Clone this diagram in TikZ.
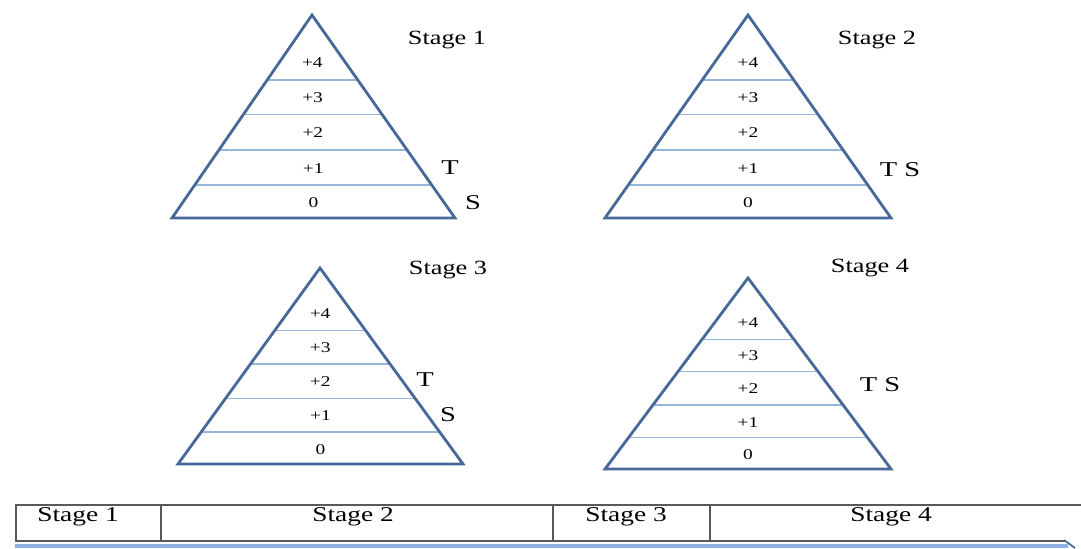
\documentclass[tikz,border=0pt]{standalone}
\usepackage{fontspec}
\setmainfont{Liberation Serif}
\usepackage{tikz}
\usetikzlibrary{calc}
\definecolor{triblue}{RGB}{72,104,154}
\definecolor{bandblue}{RGB}{150,182,220}
\definecolor{arrowblue}{RGB}{140,178,226}

\begin{document}
\begin{tikzpicture}[x=0.02cm, y=-0.02cm,
    tri/.style={draw=triblue, line width=1.6pt, line join=miter},
    band/.style={draw=bandblue, line width=0.7pt},
    lvl/.style={font=\fontsize{8.5}{9}\selectfont, xscale=1.3},
    stagelbl/.style={font=\fontsize{11.5}{13}\selectfont, xscale=1.3},
    tslbl/.style={font=\fontsize{12}{14}\selectfont, xscale=1.35},
    barlbl/.style={font=\fontsize{12}{14}\selectfont, xscale=1.3},
    barline/.style={draw=black!65, line width=1.1pt}]
      \useasboundingbox (0,0) rectangle (1081,548);

      % stage 1
      \coordinate (s1top) at (312,15); \coordinate (s1left) at (172,218); \coordinate (s1right) at (455,218);
      \coordinate (s1base) at ($(s1left)!0.5!(s1right)$);
      \draw[band] ($(s1top)!0.32!(s1left)$) -- ($(s1top)!0.32!(s1right)$);
      \draw[band] ($(s1top)!0.49!(s1left)$) -- ($(s1top)!0.49!(s1right)$);
      \draw[band] ($(s1top)!0.665!(s1left)$) -- ($(s1top)!0.665!(s1right)$);
      \draw[band] ($(s1top)!0.837!(s1left)$) -- ($(s1top)!0.837!(s1right)$);
      \draw[tri] (s1top) -- (s1left) -- (s1right) -- cycle;
      \node[lvl] (s1l4) at ($(s1top)!0.235!(s1base)$) {+4};
      \node[lvl] (s1l3) at ($(s1top)!0.405!(s1base)$) {+3};
      \node[lvl] (s1l2) at ($(s1top)!0.58!(s1base)$) {+2};
      \node[lvl] (s1l1) at ($(s1top)!0.755!(s1base)$) {+1};
      \node[lvl] (s1l0) at ($(s1top)!0.925!(s1base)$) {0};
      \node[stagelbl] (s1name) at (447,40) {Stage 1};
      \node[tslbl] (s1t) at (450,168) {T}; \node[tslbl] (s1s) at (473,203) {S};

      % stage 2
      \coordinate (s2top) at (748,15); \coordinate (s2left) at (605,218); \coordinate (s2right) at (891,218);
      \coordinate (s2base) at ($(s2left)!0.5!(s2right)$);
      \draw[band] ($(s2top)!0.32!(s2left)$) -- ($(s2top)!0.32!(s2right)$);
      \draw[band] ($(s2top)!0.49!(s2left)$) -- ($(s2top)!0.49!(s2right)$);
      \draw[band] ($(s2top)!0.665!(s2left)$) -- ($(s2top)!0.665!(s2right)$);
      \draw[band] ($(s2top)!0.837!(s2left)$) -- ($(s2top)!0.837!(s2right)$);
      \draw[tri] (s2top) -- (s2left) -- (s2right) -- cycle;
      \node[lvl] (s2l4) at ($(s2top)!0.235!(s2base)$) {+4};
      \node[lvl] (s2l3) at ($(s2top)!0.405!(s2base)$) {+3};
      \node[lvl] (s2l2) at ($(s2top)!0.58!(s2base)$) {+2};
      \node[lvl] (s2l1) at ($(s2top)!0.755!(s2base)$) {+1};
      \node[lvl] (s2l0) at ($(s2top)!0.925!(s2base)$) {0};
      \node[stagelbl] (s2name) at (877,40) {Stage 2};
      \node[tslbl] (s2ts) at (900,170) {T S};

      % stage 3
      \coordinate (s3top) at (320,268); \coordinate (s3left) at (178,464); \coordinate (s3right) at (463,464);
      \coordinate (s3base) at ($(s3left)!0.5!(s3right)$);
      \draw[band] ($(s3top)!0.32!(s3left)$) -- ($(s3top)!0.32!(s3right)$);
      \draw[band] ($(s3top)!0.49!(s3left)$) -- ($(s3top)!0.49!(s3right)$);
      \draw[band] ($(s3top)!0.665!(s3left)$) -- ($(s3top)!0.665!(s3right)$);
      \draw[band] ($(s3top)!0.837!(s3left)$) -- ($(s3top)!0.837!(s3right)$);
      \draw[tri] (s3top) -- (s3left) -- (s3right) -- cycle;
      \node[lvl] (s3l4) at ($(s3top)!0.235!(s3base)$) {+4};
      \node[lvl] (s3l3) at ($(s3top)!0.405!(s3base)$) {+3};
      \node[lvl] (s3l2) at ($(s3top)!0.58!(s3base)$) {+2};
      \node[lvl] (s3l1) at ($(s3top)!0.755!(s3base)$) {+1};
      \node[lvl] (s3l0) at ($(s3top)!0.925!(s3base)$) {0};
      \node[stagelbl] (s3name) at (448,270) {Stage 3};
      \node[tslbl] (s3t) at (425,380) {T}; \node[tslbl] (s3s) at (448,415) {S};

      % stage 4
      \coordinate (s4top) at (748,278); \coordinate (s4left) at (605,469); \coordinate (s4right) at (891,469);
      \coordinate (s4base) at ($(s4left)!0.5!(s4right)$);
      \draw[band] ($(s4top)!0.32!(s4left)$) -- ($(s4top)!0.32!(s4right)$);
      \draw[band] ($(s4top)!0.49!(s4left)$) -- ($(s4top)!0.49!(s4right)$);
      \draw[band] ($(s4top)!0.665!(s4left)$) -- ($(s4top)!0.665!(s4right)$);
      \draw[band] ($(s4top)!0.837!(s4left)$) -- ($(s4top)!0.837!(s4right)$);
      \draw[tri] (s4top) -- (s4left) -- (s4right) -- cycle;
      \node[lvl] (s4l4) at ($(s4top)!0.235!(s4base)$) {+4};
      \node[lvl] (s4l3) at ($(s4top)!0.405!(s4base)$) {+3};
      \node[lvl] (s4l2) at ($(s4top)!0.58!(s4base)$) {+2};
      \node[lvl] (s4l1) at ($(s4top)!0.755!(s4base)$) {+1};
      \node[lvl] (s4l0) at ($(s4top)!0.925!(s4base)$) {0};
      \node[stagelbl] (s4name) at (870,268) {Stage 4};
      \node[tslbl] (s4ts) at (880,385) {T S};

      % timeline bar
      \draw[barline] (1081,505) -- (16,505) -- (16,541) -- (1065,541);
      \draw[barline] (161,505) -- (161,541);
      \draw[barline] (553,505) -- (553,541);
      \draw[barline] (710,505) -- (710,541);
      \node[barlbl] (bar1) at (78,517) {Stage 1};
      \node[barlbl] (bar2) at (353,517) {Stage 2};
      \node[barlbl] (bar3) at (626,517) {Stage 3};
      \node[barlbl] (bar4) at (891,517) {Stage 4};
      \draw[arrowblue, line width=1.8pt] (15,546) -- (1068,546);
      \draw[triblue, line width=1pt] (1064,540) -- (1075,548);
    \end{tikzpicture}
\end{document}
